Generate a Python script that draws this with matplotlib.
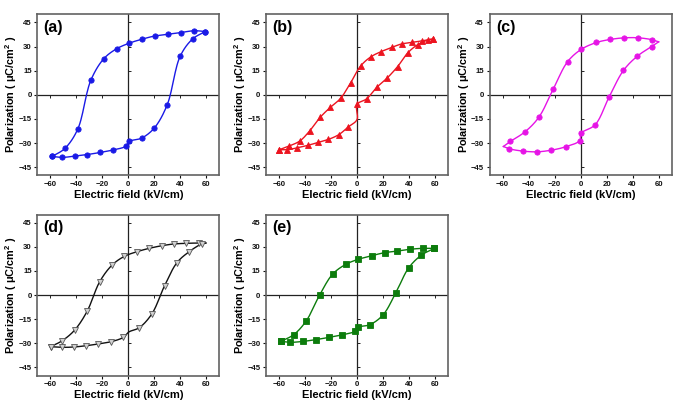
import numpy as np
import matplotlib
matplotlib.use('Agg')
import matplotlib.pyplot as plt

plt.rcParams['font.family'] = ['Liberation Sans', 'DejaVu Sans']
plt.rcParams['font.weight'] = 'bold'
plt.rcParams['mathtext.fontset'] = 'custom'
plt.rcParams['mathtext.rm'] = 'Liberation Sans:bold'
plt.rcParams['mathtext.bf'] = 'Liberation Sans:bold'

# ---------------- data read off the loops (E in kV/cm, P in uC/cm2) ----------------
# upper branch runs from +Emax to -Emax, lower branch from -Emax back to +Emax

a_up_E = [59.3, 50.6, 40.7, 30.7, 20.7, 10.7, 0.8, -9.0, -18.9, -28.9, -38.9, -48.8, -58.6]
a_up_P = [39.3, 39.8, 38.7, 37.7, 36.6, 34.6, 32.1, 28.6, 22.4, 8.9, -21.3, -33.3, -38.3]
a_lo_E = [-58.6, -51.4, -41.4, -31.5, -21.5, -11.5, -1.8, 0.5, 10.2, 19.9, 29.9, 39.9, 49.6, 59.3]
a_lo_P = [-38.3, -38.9, -38.1, -37.1, -35.8, -34.2, -31.9, -29.0, -26.9, -20.7, -6.2, 24.0, 34.8, 39.3]

b_up_E = [58.8, 50.1, 42.2, 34.3, 26.6, 18.7, 10.7, 2.8, -4.9, -12.5, -20.5, -28.1, -36.1, -44.0, -52.2, -59.8]
b_up_P = [34.7, 33.5, 32.6, 31.6, 29.4, 26.9, 23.6, 17.9, 7.4, -2.1, -7.8, -13.8, -22.2, -28.7, -31.8, -34.1]
b_lo_E = [-59.8, -53.7, -45.8, -37.9, -29.9, -22.0, -14.1, -6.6, 0.0, 0.0, 7.4, 15.3, 23.3, 31.2, 39.1, 46.8, 54.7, 58.8]
b_lo_P = [-34.1, -34.1, -32.9, -31.4, -29.6, -27.7, -24.8, -19.9, -15.4, -6.0, -2.5, 4.7, 10.5, 17.5, 26.1, 31.2, 34.1, 34.7]

c_up_E = [60.1, 55.2, 44.5, 33.8, 23.0, 12.3, 0.5, -10.0, -21.0, -32.0, -42.7, -54.0, -59.3]
c_up_P = [32.9, 34.2, 35.4, 35.4, 34.4, 32.5, 28.2, 20.5, 3.5, -13.9, -23.0, -29.0, -32.1]
c_lo_E = [-59.3, -55.0, -44.0, -33.2, -22.5, -11.5, -0.5, 0.3, 11.3, 22.0, 33.0, 43.7, 54.7, 60.1]
c_lo_P = [-32.1, -33.5, -35.0, -35.4, -34.4, -32.3, -28.4, -24.0, -18.6, -1.4, 15.1, 24.0, 30.0, 32.9]

d_up_E = [59.6, 54.0, 44.5, 35.0, 25.6, 16.1, 6.6, -3.1, -12.5, -22.0, -31.7, -41.4, -50.9, -59.8]
d_up_P = [32.3, 32.3, 32.1, 31.7, 30.6, 29.0, 26.9, 24.0, 18.6, 8.3, -10.1, -21.9, -28.4, -32.1]
d_lo_E = [-59.8, -51.2, -42.0, -32.5, -23.0, -13.3, -3.8, 0.3, 8.4, 18.2, 27.9, 37.4, 46.8, 56.3, 59.6]
d_lo_P = [-32.1, -32.5, -32.3, -31.5, -30.4, -29.0, -26.3, -23.0, -20.3, -11.6, 5.8, 20.1, 26.9, 31.7, 32.3]

e_up_E = [59.6, 50.4, 40.9, 30.9, 21.2, 11.3, 1.0, -8.7, -18.7, -28.6, -38.9, -48.6, -58.6]
e_up_P = [29.0, 29.0, 28.4, 27.3, 26.3, 24.4, 22.2, 19.0, 13.0, 0.2, -15.9, -24.6, -28.8]
e_lo_E = [-58.6, -51.4, -41.4, -31.5, -21.5, -11.5, -1.8, 0.5, 10.0, 20.0, 29.9, 39.7, 49.6, 59.6]
e_lo_P = [-28.8, -29.4, -28.8, -27.7, -26.3, -24.8, -22.6, -20.1, -18.4, -12.4, 1.4, 16.8, 24.8, 29.0]

# points on the loops that carry no symbol (tips / jump at E=0)
a_nomark = ([], [])
b_nomark = ([], [8])
c_nomark = ([0, 12], [0, 13])
d_nomark = ([0], [7, 14])
e_nomark = ([], [])

x_ticks = [-60, -40, -20, 0, 20, 40, 60]
y_ticks = [-45, -30, -15, 0, 15, 30, 45]


def smooth(xs, ys, n=14):
    # centripetal Catmull-Rom through the read points, only used to draw the line
    pts = np.column_stack([xs, ys]).astype(float)
    p = np.vstack([2 * pts[0] - pts[1], pts, 2 * pts[-1] - pts[-2]])
    scale = np.array([1.0, 1.23])
    out = []

    def tj(ti, a, b):
        return ti + max(np.hypot(*((b - a) * scale)), 1e-6) ** 0.5

    for i in range(1, len(p) - 2):
        p0, p1, p2, p3 = p[i - 1], p[i], p[i + 1], p[i + 2]
        t0 = 0.0
        t1 = tj(t0, p0, p1)
        t2 = tj(t1, p1, p2)
        t3 = tj(t2, p2, p3)
        t = np.linspace(t1, t2, n, endpoint=False)[:, None]
        A1 = (t1 - t) / (t1 - t0) * p0 + (t - t0) / (t1 - t0) * p1
        A2 = (t2 - t) / (t2 - t1) * p1 + (t - t1) / (t2 - t1) * p2
        A3 = (t3 - t) / (t3 - t2) * p2 + (t - t2) / (t3 - t2) * p3
        B1 = (t2 - t) / (t2 - t0) * A1 + (t - t0) / (t2 - t0) * A2
        B2 = (t3 - t) / (t3 - t1) * A2 + (t - t1) / (t3 - t1) * A3
        C = (t2 - t) / (t2 - t1) * B1 + (t - t1) / (t2 - t1) * B2
        out.append(C)
    out.append(pts[-1:])
    out = np.vstack(out)
    return out[:, 0], out[:, 1]


panels = [
    ('(a)', a_up_E, a_up_P, a_lo_E, a_lo_P, a_nomark, '#1a1ae6', 'o', '#1a1ae6', '#1a1ae6'),
    ('(b)', b_up_E, b_up_P, b_lo_E, b_lo_P, b_nomark, '#ec1420', '^', '#ec1420', '#ec1420'),
    ('(c)', c_up_E, c_up_P, c_lo_E, c_lo_P, c_nomark, '#e614e6', 'o', '#e614e6', '#e614e6'),
    ('(d)', d_up_E, d_up_P, d_lo_E, d_lo_P, d_nomark, '#111111', 'v', '#d0d0d0', '#555555'),
    ('(e)', e_up_E, e_up_P, e_lo_E, e_lo_P, e_nomark, '#0c7c0c', 's', '#0c7c0c', '#0c7c0c'),
]

rects = [
    [0.0545, 0.5714, 0.2657, 0.3936],
    [0.3883, 0.5714, 0.2657, 0.3936],
    [0.7146, 0.5714, 0.2657, 0.3936],
    [0.0545, 0.0819, 0.2657, 0.3936],
    [0.3883, 0.0819, 0.2657, 0.3936],
]

fig = plt.figure(figsize=(6.85, 4.09), dpi=100)

for rect, (tag, uE, uP, lE, lP, nomark, lc, mk, mfc, mec) in zip(rects, panels):
    ax = fig.add_axes(rect)
    ax.set_xlim(-70, 70)
    ax.set_ylim(-50, 50)

    # center axes through the origin
    ax.axhline(0, color='#222222', lw=0.9, zorder=1)
    ax.axvline(0, color='#222222', lw=0.9, zorder=1)
    ax.plot(np.zeros(len(y_ticks)), y_ticks, ls='none', marker=1, ms=2.5,
            mew=0.7, color='#222222', zorder=1)
    ax.plot(x_ticks, np.zeros(len(x_ticks)), ls='none', marker=3, ms=2.5,
            mew=0.7, color='#222222', zorder=1)

    for E, P, skip in ((uE, uP, nomark[0]), (lE, lP, nomark[1])):
        sx, sy = smooth(E, P)
        ax.plot(sx, sy, color=lc, lw=1.0, zorder=2)
        keep = [i for i in range(len(E)) if i not in skip]
        ax.plot(np.array(E)[keep], np.array(P)[keep], ls='none', marker=mk,
                ms=3.8, mfc=mfc, mec=mec, mew=0.6, zorder=3)

    ax.set_xticks(x_ticks)
    ax.set_yticks(y_ticks)
    ax.tick_params(direction='out', length=2.5, width=0.8, pad=1.5,
                   labelsize=5.6, colors='#111111')
    for s in ax.spines.values():
        s.set_color('#626262')
        s.set_linewidth(1.2)

    ax.set_xlabel('Electric field (kV/cm)', fontsize=8, fontweight='bold', labelpad=1.5)
    ax.set_ylabel(r'Polarization ( μC/cm$^\mathbf{2}$ )', fontsize=7.8,
                  fontweight='bold', labelpad=-0.5)
    ax.text(0.035, 0.965, tag, transform=ax.transAxes, ha='left', va='top',
            fontsize=11.5, fontweight='bold')

fig.savefig('out.png', dpi=100)
